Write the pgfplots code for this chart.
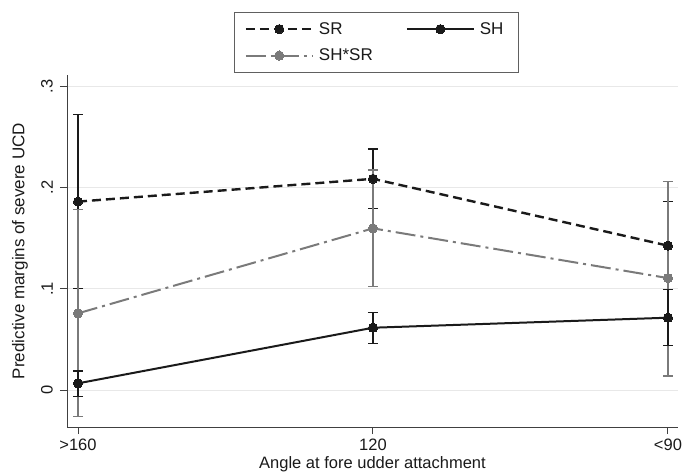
\documentclass[border=0pt]{standalone}
\usepackage{fontspec}
\setmainfont{Liberation Sans}
\usepackage{pgfplots}
\pgfplotsset{compat=1.18}
\usepackage{pgfplotstable}
\definecolor{ser}{HTML}{1A1A1A}
\definecolor{gr}{HTML}{7A7A7A}
\definecolor{gridc}{HTML}{E8E8E8}
\definecolor{axc}{HTML}{404040}
\definecolor{legc}{HTML}{606060}

\pgfplotstableread{
x y lo hi
0 0.186 0.100 0.272
1 0.2085 0.179 0.238
2 0.1425 0.099 0.186
}\SR
\pgfplotstableread{
x y lo hi
0 0.0066 -0.0066 0.019
1 0.0615 0.046 0.0765
2 0.0714 0.044 0.099
}\SH
\pgfplotstableread{
x y lo hi
0 0.0757 -0.026 0.178
1 0.1596 0.102 0.217
2 0.1105 0.014 0.206
}\SHSR

\begin{document}
\begin{tikzpicture}
\path[use as bounding box] (0,0) rectangle (684pt,473pt);
\begin{axis}[
  at={(67pt,46pt)}, anchor=south west, scale only axis,
  width=611pt, height=352pt,
  xmin=-0.0373, xmax=2.034, ymin=-0.0365, ymax=0.311,
  axis x line*=bottom, axis y line*=left,
  axis line style={axc, line width=1pt, -},
  xtick={0,1,2}, xticklabels={>160,120,<90},
  ytick={0,0.1,0.2,0.3}, yticklabels={0,.1,.2,.3},
  tick align=outside, major tick length=7pt,
  tick style={axc, line width=1pt},
  ymajorgrids, grid style={gridc, line width=1pt},
  /pgf/number format/assume math mode=true,
  tick label style={font=\fontsize{16.5}{19}\selectfont, text=ser},
  yticklabel style={rotate=90, anchor=south, inner sep=0pt},
  yticklabel shift=7pt,
  xticklabel style={anchor=base, inner sep=0pt, yshift=-16pt},
  xlabel={Angle at fore udder attachment},
  ylabel={Predictive margins of severe UCD},
  every axis x label/.style={at={(axis description cs:0.5,-0.1193)}, anchor=base, inner sep=0pt, font=\fontsize{16.5}{19}\selectfont, text=ser},
  every axis y label/.style={at={(axis description cs:-0.0769,0.5)}, rotate=90, anchor=center, font=\fontsize{17}{20}\selectfont, text=ser},
  legend columns=2,
  legend cell align=left,
  legend style={at={(axis description cs:0.5,1.179)}, anchor=north, xshift=4pt,
    draw=legc, line width=1pt, font=\fontsize{17}{20}\selectfont,
    inner xsep=10pt, inner ysep=7pt, row sep=7pt,
    /tikz/every even column/.append style={column sep=28pt},
    nodes={inner xsep=5pt, inner ysep=3pt, text=ser}},
  legend image code/.code={\draw[mark repeat=2,mark phase=2] plot coordinates {(0pt,0pt) (33.5pt,0pt) (67pt,0pt)};},
]
% confidence intervals
\addplot[forget plot, only marks, mark=none,
  error bars/.cd, y dir=both, y explicit,
  error bar style={draw=ser, solid, line width=1.8pt},
  error mark options={rotate=90, draw=ser, solid, line width=1.5pt, mark size=5pt}]
  table[x=x, y=y, y error plus expr=\thisrow{hi}-\thisrow{y}, y error minus expr=\thisrow{y}-\thisrow{lo}] {\SR};
\addplot[forget plot, only marks, mark=none,
  error bars/.cd, y dir=both, y explicit,
  error bar style={draw=gr, solid, line width=1.8pt},
  error mark options={rotate=90, draw=gr, solid, line width=1.5pt, mark size=5pt}]
  table[x=x, y=y, y error plus expr=\thisrow{hi}-\thisrow{y}, y error minus expr=\thisrow{y}-\thisrow{lo}] {\SHSR};
\addplot[forget plot, only marks, mark=none,
  error bars/.cd, y dir=both, y explicit,
  error bar style={draw=ser, solid, line width=1.8pt},
  error mark options={rotate=90, draw=ser, solid, line width=1.5pt, mark size=5pt}]
  table[x=x, y=y, y error plus expr=\thisrow{hi}-\thisrow{y}, y error minus expr=\thisrow{y}-\thisrow{lo}] {\SH};
% lines
\addplot[ser, line width=2.4pt, dash pattern=on 9pt off 5pt, mark=*, mark size=4.6pt,
  mark options={solid, fill=ser, draw=ser, line width=0pt}]
  table[x=x, y=y] {\SR};
\addlegendentry{SR}
\addplot[ser, line width=2pt, mark=*, mark size=4.6pt,
  mark options={solid, fill=ser, draw=ser, line width=0pt}]
  table[x=x, y=y] {\SH};
\addlegendentry{SH}
\addplot[gr, line width=2pt, dash pattern=on 20pt off 5pt on 3pt off 5pt, mark=*, mark size=4.6pt,
  mark options={solid, fill=gr, draw=gr, line width=0pt}]
  table[x=x, y=y] {\SHSR};
\addlegendentry{SH*SR}
\end{axis}
\end{tikzpicture}
\end{document}
